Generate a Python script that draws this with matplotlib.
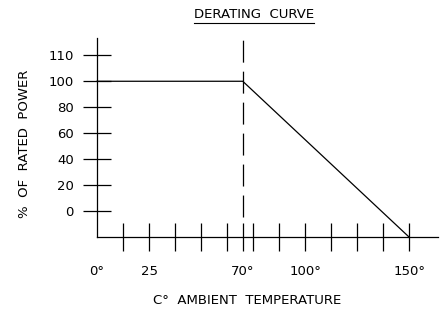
import matplotlib
matplotlib.use('Agg')
import matplotlib.pyplot as plt
from matplotlib.lines import Line2D

# Derating curve data
temp = [0, 70, 150]
power = [100, 100, -20]
knee_temp = 70

# the drawing is schematic: the "110" mark sits one full step above 100
y_ticks = [0, 20, 40, 60, 80, 100, 120]
y_labels = ['0', '20', '40', '60', '80', '100', '110']
x_ticks = [0, 12.5, 25, 37.5, 50, 62.5, 70, 75, 87.5, 100, 112.5, 125, 137.5, 150]
x_labels = ['0°', '', '25', '', '', '', '70°', '', '', '100°', '', '', '', '150°']

plt.rcParams['font.family'] = ['DejaVu Sans']
plt.rcParams['lines.scale_dashes'] = False

fig = plt.figure(figsize=(4.42, 3.11), dpi=100)
ax = fig.add_axes([0, 0, 1, 1])

# axis scaling picked so the drawing lands where the reference has it
ax.set_xlim(-46.6, 165.7)
ax.set_ylim(-76.7, 162.5)
ax.patch.set_visible(False)

ax.plot(temp, power, color='black', lw=0.9, solid_joinstyle='miter')
ax.plot([knee_temp, knee_temp], [-4.4, 133], color='black', lw=0.9,
        linestyle=(0, (15.8, 6.5)))

for side in ['top', 'right']:
    ax.spines[side].set_visible(False)
ax.spines['left'].set_position(('data', 0))
ax.spines['bottom'].set_position(('data', -20))
ax.spines['left'].set_bounds(-20, 133)
ax.spines['bottom'].set_bounds(0, 164)
ax.spines['left'].set_linewidth(0.9)
ax.spines['bottom'].set_linewidth(0.9)

ax.set_yticks(y_ticks)
ax.set_yticklabels(y_labels)
ax.set_xticks(x_ticks)
ax.set_xticklabels(x_labels)
ax.tick_params(axis='y', direction='inout', length=19.5, width=0.9,
               pad=7, labelsize=9.5)
ax.tick_params(axis='x', direction='inout', length=20.5, width=0.9,
               pad=10, labelsize=9.5)
# no tick mark at the origin, only its label
ax.xaxis.get_major_ticks()[0].tick1line.set_visible(False)

title = fig.text(254 / 442, 1 - 15 / 311, 'DERATING  CURVE', ha='center',
                 va='center', fontsize=9.5)
fig.text(25 / 442, 1 - 144 / 311, '%  OF  RATED  POWER', rotation=90,
         ha='center', va='center', fontsize=9.5)
fig.text(247 / 442, 1 - 301 / 311, 'C°  AMBIENT  TEMPERATURE', ha='center',
         va='center', fontsize=9.5)

# underline the title
fig.canvas.draw()
bb = title.get_window_extent()
fig.add_artist(Line2D([bb.x0, bb.x1], [bb.y0 - 1, bb.y0 - 1], transform=None,
                      color='black', lw=0.8))

plt.savefig('out.png', dpi=100)
